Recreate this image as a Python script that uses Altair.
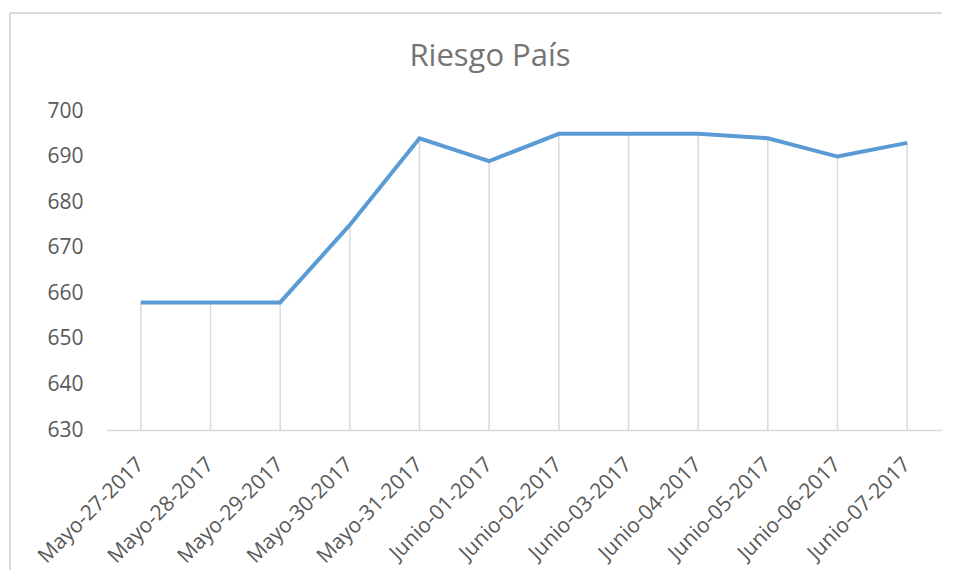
import altair as alt
import pandas as pd

titulo = "Riesgo País"
fechas = ["Mayo-27-2017", "Mayo-28-2017", "Mayo-29-2017", "Mayo-30-2017", "Mayo-31-2017",
          "Junio-01-2017", "Junio-02-2017", "Junio-03-2017", "Junio-04-2017",
          "Junio-05-2017", "Junio-06-2017", "Junio-07-2017"]
valores = [658, 658, 658, 675, 694, 689, 695, 695, 695, 694, 690, 693]
y_ticks = [630, 640, 650, 660, 670, 680, 690, 700]

df = pd.DataFrame({"fecha": fechas, "valor": valores})

FONT = "Open Sans"

x_enc = alt.X("fecha:N", sort=fechas, title=None,
              scale=alt.Scale(paddingInner=0, paddingOuter=0),
              axis=alt.Axis(labelAngle=-45, labelAlign="right", labelBaseline="middle",
                            labelPadding=31, ticks=False, domainColor="#d9d9d9",
                            domainWidth=1.5, labelFont=FONT, labelFontSize=21,
                            labelColor="#595959", grid=False))
y_scale = alt.Scale(domain=[630, 700], nice=False, zero=False)
y_axis = alt.Axis(values=y_ticks, domain=False, ticks=False, grid=False, labelPadding=23,
                  labelFont=FONT, labelFontSize=21, labelColor="#595959")

base = alt.Chart(df)

drops = base.mark_rule(color="#d9d9d9", strokeWidth=1.5).encode(
    x=x_enc,
    y=alt.Y("valor:Q", scale=y_scale, axis=y_axis, title=None),
    y2=alt.datum(630),
)

line = base.mark_line(color="#5B9BD5", strokeWidth=4, strokeJoin="miter").encode(
    x=x_enc,
    y=alt.Y("valor:Q", scale=y_scale, axis=y_axis, title=None),
)

frame_left = alt.Chart(df).mark_rule(color="#d9d9d9", strokeWidth=2).encode(
    x=alt.value(-96), y=alt.value(-98), y2=alt.value(470))
frame_top = alt.Chart(df).mark_rule(color="#d9d9d9", strokeWidth=2).encode(
    x=alt.value(-96), x2=alt.value(880), y=alt.value(-98))

title_df = pd.DataFrame({"t": [titulo]})
title_mark = alt.Chart(title_df).mark_text(
    font=FONT, fontSize=31, color="#757575", align="center", baseline="middle"
).encode(text="t:N", x=alt.value(384), y=alt.value(-54))

chart = alt.layer(frame_left, frame_top, drops, line, title_mark).properties(
    width=836, height=319,
    autosize=alt.AutoSizeParams(type="none"),
    padding={"left": 98, "top": 103, "right": 0, "bottom": 140},
).configure_view(stroke=None)

chart.save("out.html", embed_options={"renderer": "svg", "actions": False})
